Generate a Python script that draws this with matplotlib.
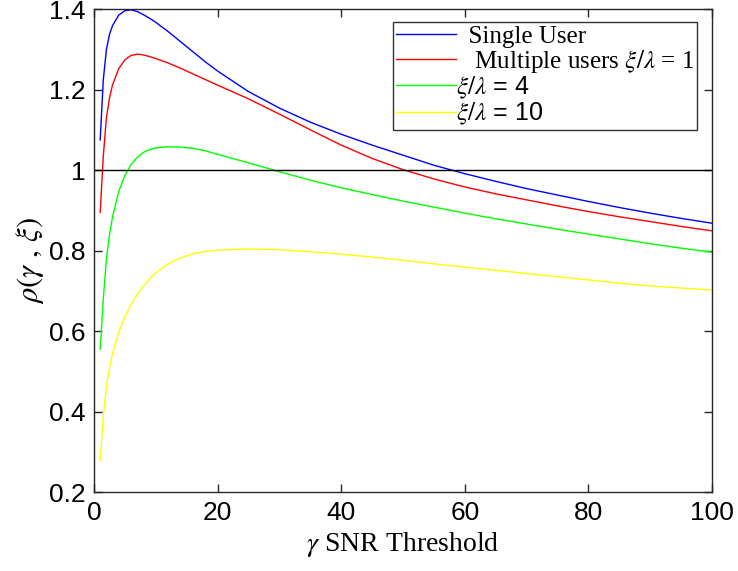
import matplotlib
matplotlib.use("Agg")
import matplotlib.pyplot as plt

gamma = [1, 1.5, 2, 2.5, 3, 4, 5, 6, 7, 8, 9, 10, 12, 14, 16, 18, 20, 25, 30, 35, 40,
         45, 50, 55, 60, 65, 70, 75, 80, 85, 90, 95, 100]

single_user = [1.076, 1.225, 1.300, 1.338, 1.360, 1.386, 1.397, 1.399, 1.395, 1.387, 1.378,
               1.368, 1.345, 1.320, 1.295, 1.270, 1.247, 1.196, 1.155, 1.120, 1.090,
               1.063, 1.038, 1.013, 0.992, 0.973, 0.955, 0.939, 0.923, 0.908, 0.894,
               0.881, 0.869]

multi_1 = [0.896, 1.035, 1.130, 1.180, 1.213, 1.253, 1.275, 1.286, 1.289, 1.287, 1.283,
           1.278, 1.267, 1.254, 1.240, 1.226, 1.212, 1.178, 1.140, 1.101, 1.063,
           1.030, 1.002, 0.979, 0.959, 0.942, 0.927, 0.912, 0.898, 0.885, 0.873,
           0.861, 0.850]

multi_4 = [0.556, 0.680, 0.780, 0.840, 0.885, 0.948, 0.988, 1.015, 1.033, 1.045, 1.052,
           1.056, 1.059, 1.058, 1.055, 1.049, 1.040, 1.019, 0.997, 0.976, 0.957,
           0.940, 0.924, 0.909, 0.894, 0.880, 0.867, 0.854, 0.842, 0.830, 0.818,
           0.807, 0.797]

multi_10 = [0.279, 0.390, 0.462, 0.510, 0.546, 0.598, 0.637, 0.667, 0.692, 0.713, 0.731,
            0.746, 0.768, 0.783, 0.793, 0.799, 0.802, 0.805, 0.803, 0.798, 0.792,
            0.785, 0.777, 0.768, 0.760, 0.752, 0.744, 0.736, 0.728, 0.720, 0.713,
            0.708, 0.703]

labels = ["  Single User", "   Multiple users $\\xi/\\lambda$ = 1",
          "$\\xi/\\lambda$ = 4", "$\\xi/\\lambda$ = 10"]
colors = ["#0000ff", "#ff0000", "#00ff00", "#ffff00"]

xticks = [0, 20, 40, 60, 80, 100]
yticks = [0.2, 0.4, 0.6, 0.8, 1.0, 1.2, 1.4]
ytick_labels = ["0.2", "0.4", "0.6", "0.8", "1", "1.2", "1.4"]

plt.rcParams['mathtext.fontset'] = 'stix'
plt.rcParams['font.family'] = ['Liberation Sans', 'DejaVu Sans']

fig = plt.figure(figsize=(7.38, 5.71), dpi=100)
ax = fig.add_axes([0.1274, 0.1375, 0.9648 - 0.1274, 0.9834 - 0.1375])

series = [single_user, multi_1, multi_4, multi_10]
for ys, c, lab in zip(series, colors, labels):
    ax.plot(gamma, ys, color=c, lw=1.0, label=lab)

ax.axhline(1.0, color='black', lw=1.0)

ax.set_xlim(0, 100)
ax.set_ylim(0.2, 1.4)
ax.set_xticks(xticks)
ax.set_yticks(yticks)
ax.set_yticklabels(ytick_labels)
ax.tick_params(direction='in', length=6, width=1, top=True, right=True,
               labelsize=19, colors='#262626', labelcolor='black', pad=6)
for s in ax.spines.values():
    s.set_linewidth(1.0)
    s.set_color('#262626')

ax.set_xlabel("$\\gamma$ SNR Threshold", fontfamily='Liberation Serif', fontsize=20, labelpad=4)
ax.set_ylabel("$\\rho(\\gamma\\ ,\\,\\xi)$", fontsize=22, labelpad=0)
ax.yaxis.set_label_coords(-0.078, 0.48)

leg = ax.legend(loc='upper right', bbox_to_anchor=(0.976, 0.974), fontsize=18,
                frameon=True, fancybox=False, handlelength=2.4, handletextpad=0.0,
                borderpad=0.12, labelspacing=0.0, borderaxespad=0.0)
leg.get_frame().set_edgecolor('black')
leg.get_frame().set_linewidth(1.0)
texts = leg.get_texts()
texts[0].set_fontfamily('Liberation Serif')
texts[1].set_fontfamily('Liberation Serif')

fig.savefig("out.png", dpi=100)
